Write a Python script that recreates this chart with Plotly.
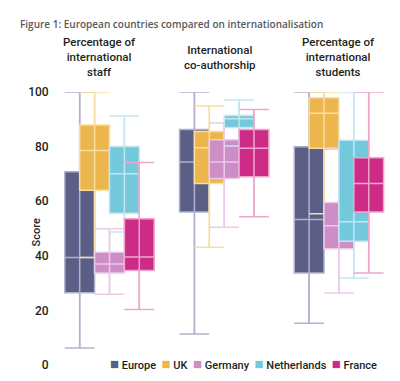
import plotly.graph_objects as go

# ---------------- data ----------------
groups = ["Percentage of<br>international<br>staff",
          "International<br>co-authorship",
          "Percentage of<br>international<br>students"]
series = ["Europe", "UK", "Germany", "Netherlands", "France"]

# values per series: [staff, co-authorship, students]
lower = {
    "Europe":      [6.2, 11.4, 15.3],
    "UK":          [39.4, 43.1, 55.4],
    "Germany":     [25.9, 50.5, 26.4],
    "Netherlands": [48.7, 80.2, 31.9],
    "France":      [20.3, 54.3, 33.7],
}
q1 = {
    "Europe":      [26.5, 56.0, 33.7],
    "UK":          [64.0, 66.5, 79.4],
    "Germany":     [33.7, 68.3, 42.6],
    "Netherlands": [55.6, 87.0, 45.3],
    "France":      [34.6, 69.0, 56.0],
}
median = {
    "Europe":      [39.4, 74.4, 53.3],
    "UK":          [78.6, 79.6, 92.2],
    "Germany":     [37.0, 74.4, 51.0],
    "Netherlands": [70.1, 90.2, 52.5],
    "France":      [39.6, 79.4, 66.5],
}
q3 = {
    "Europe":      [70.8, 86.3, 79.9],
    "UK":          [87.9, 85.5, 97.9],
    "Germany":     [41.3, 82.5, 59.5],
    "Netherlands": [80.0, 91.4, 82.3],
    "France":      [53.6, 86.3, 75.9],
}
upper = {
    "Europe":      [100, 100, 100],
    "UK":          [100, 94.9, 100],
    "Germany":     [49.9, 88.6, 79.0],
    "Netherlands": [91.2, 97.1, 100],
    "France":      [74.2, 93.6, 100],
}
y_ticks = [0, 20, 40, 60, 80, 100]

# ---------------- style ----------------
fill = {"Europe": "#5b5e85", "UK": "#ecb64d", "Germany": "#cd8dc6",
        "Netherlands": "#73c8dc", "France": "#cc2c85"}
light = {"Europe": "#b3b1cd", "UK": "#f8dda4", "Germany": "#ebcae7",
         "Netherlands": "#c3e7f0", "France": "#eda7cd"}
FONT = "Roboto, sans-serif"
TXT = "#231f20"
GROUP_STEP = 7.7
BOX_W = 2.0

def positions(i):
    return [g * GROUP_STEP + i for g in range(len(groups))]

fig = go.Figure()
for i, s in enumerate(series):
    xs = positions(i)
    fig.add_trace(go.Box(
        x=xs, q1=q1[s], median=median[s], q3=q3[s],
        lowerfence=lower[s], upperfence=upper[s],
        width=BOX_W, whiskerwidth=1, fillcolor=fill[s],
        line=dict(color=light[s], width=1.5), boxpoints=False,
        name=s, showlegend=False, hoverinfo="skip"))
    # whisker line running through the box
    fig.add_trace(go.Box(
        x=xs, q1=lower[s], median=lower[s], q3=lower[s],
        lowerfence=lower[s], upperfence=upper[s],
        width=0.01, whiskerwidth=0, fillcolor=light[s],
        line=dict(color=light[s], width=1.5), boxpoints=False,
        name=s, showlegend=False, hoverinfo="skip"))

# group titles
title_x = [1.3, 9.45, 17.35]
for g, t in enumerate(groups):
    fig.add_annotation(x=title_x[g], xref="x", y=1.128, yref="paper",
                       text=t, showarrow=False, xanchor="center", yanchor="middle",
                       font=dict(family=FONT, size=11.5, color=TXT, weight=500))

# y-axis title
fig.add_annotation(x=-0.0925, xref="paper", y=0.4835, yref="paper", text="Score",
                   textangle=-90, showarrow=False,
                   font=dict(family=FONT, size=11, color=TXT, weight=500))

# legend (text-based)
NB = "\u00a0"
parts = []
for s in series:
    parts.append(f"<span style='color:{fill[s]};font-size:15px'>■</span>{NB}{s}")
legend_text = (NB * 2).join(parts)
fig.add_annotation(x=0.555, xref="paper", y=0.004, yref="paper", text=legend_text,
                   showarrow=False, xanchor="center", yanchor="middle",
                   font=dict(family=FONT, size=11, color=TXT, weight=500))

fig.update_layout(
    width=400, height=381,
    margin=dict(l=50, r=15, t=84, b=24),
    paper_bgcolor="white", plot_bgcolor="white",
    boxmode="overlay",
    showlegend=False,
    title=dict(text="Figure 1: European countries compared on internationalisation",
               x=12 / 400, xanchor="left", xref="container",
               y=1 - 16 / 381, yanchor="middle", yref="container",
               font=dict(family="Open Sans, sans-serif", size=10, color="#58595b", weight=600)),
    xaxis=dict(range=[-1.456, 21.03], showgrid=False, zeroline=False,
               showticklabels=False, showline=False, ticks=""),
    yaxis=dict(range=[0, 100], tickvals=y_ticks, showgrid=False, zeroline=False,
               showline=False, ticks="outside", ticklen=6, tickcolor="rgba(0,0,0,0)",
               tickfont=dict(family=FONT, size=12, color=TXT, weight=500)),
)

fig.write_html("out.html")
